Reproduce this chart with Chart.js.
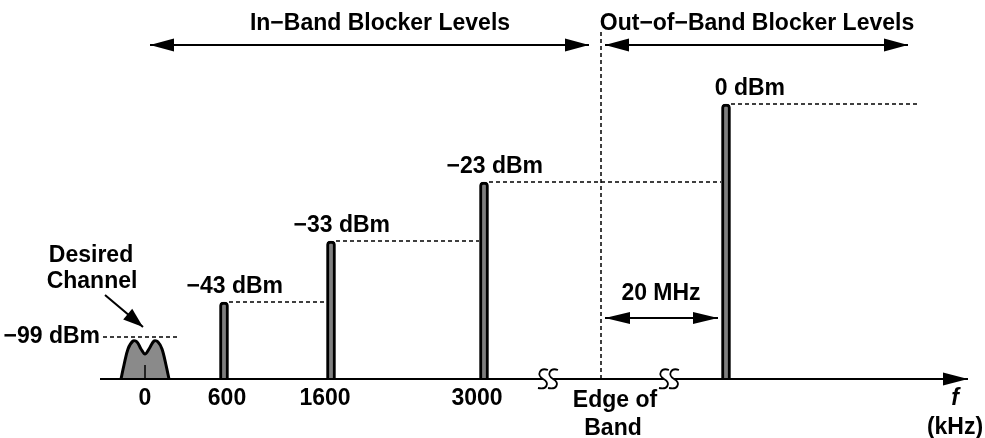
<!DOCTYPE html>
<html>
<head>
<meta charset="utf-8">
<script src="https://cdn.jsdelivr.net/npm/chart.js@4.4.1/dist/chart.umd.min.js"></script>
<style>
  html, body { margin: 0; padding: 0; background: #fff; }
</style>
</head>
<body>
<canvas id="spec" width="985" height="438"></canvas>
<script>
// schematic spectrum: x = place on the drawn frequency axis, y = drawn level above the axis
const tickLabels = ["0", "600", "1600", "3000"];
const tickPos = [145, 227, 325, 477];
const blockerPos = [224, 331, 484, 726];
const blockerHeight = [77, 138, 197, 275];
const blockerLabels = ["\u221243 dBm", "\u221233 dBm", "\u221223 dBm", "0 dBm"];
const desiredPos = 145;
const desiredHeight = 42;
const desiredLabel = "\u221299 dBm";
// desired channel outline (offset from centre, height)
const channelDx = [-24, -21, -17, -12, -8, -4, 0, 4, 9, 13, 17, 21, 24];
const channelH  = [0, 14, 30, 38, 37, 30, 25, 30, 38, 37, 30, 14, 0];
const edgePos = 601;
const breakPos = [548, 669];

const FONT = '700 23px "Liberation Sans", Arial, sans-serif';

function seg(x1, y1, x2, y2, dash) {
  return {
    type: "line",
    data: [{ x: x1, y: y1 }, { x: x2, y: y2 }],
    borderColor: "#000",
    borderWidth: 1.5,
    borderDash: dash || [],
    pointRadius: 0,
    fill: false,
    order: 2
  };
}

const datasets = [];

// desired channel
datasets.push({
  type: "line",
  data: channelDx.map((d, i) => ({ x: desiredPos + d, y: channelH[i] })),
  borderColor: "#000",
  borderWidth: 3,
  backgroundColor: "#8a8a8a",
  fill: "origin",
  tension: 0.35,
  pointRadius: 0,
  order: 3
});
datasets.push(seg(desiredPos, 0, desiredPos, 14));

// blockers
datasets.push({
  type: "bar",
  data: blockerPos.map((x, i) => ({ x: x, y: blockerHeight[i] })),
  backgroundColor: "#7f7f7f",
  borderColor: "#000",
  borderWidth: 3,
  borderSkipped: "start",
  borderRadius: { topLeft: 4, topRight: 4 },
  barThickness: 9,
  order: 1
});

// dashed level lines
datasets.push(seg(103, desiredHeight, 179, desiredHeight, [4, 3]));
blockerPos.forEach((x, i) => {
  const end = i < blockerPos.length - 1 ? blockerPos[i + 1] - 5 : 918;
  datasets.push(seg(x + 5, blockerHeight[i], end, blockerHeight[i], [4, 3]));
});
// band edge
datasets.push(seg(edgePos, 0, edgePos, 349, [4, 3]));

function arrowHead(ctx, tx, ty, dx, dy, len, half) {
  const l = Math.hypot(dx, dy);
  const ux = dx / l, uy = dy / l;
  ctx.beginPath();
  ctx.moveTo(tx, ty);
  ctx.lineTo(tx - ux * len - uy * half, ty - uy * len + ux * half);
  ctx.lineTo(tx - ux * len + uy * half, ty - uy * len - ux * half);
  ctx.closePath();
  ctx.fill();
}

function arrow(ctx, x1, y1, x2, y2, both, len, half) {
  ctx.beginPath();
  ctx.moveTo(x1, y1);
  ctx.lineTo(x2, y2);
  ctx.stroke();
  arrowHead(ctx, x2, y2, x2 - x1, y2 - y1, len, half);
  if (both) arrowHead(ctx, x1, y1, x1 - x2, y1 - y2, len, half);
}

function squiggle(ctx, cx, cy) {
  ctx.beginPath();
  ctx.moveTo(cx + 5, cy - 9);
  ctx.bezierCurveTo(cx - 3, cy - 12, cx - 7, cy - 4, cx, cy);
  ctx.bezierCurveTo(cx + 7, cy + 4, cx + 4, cy + 11, cx - 5, cy + 9);
  ctx.stroke();
}

const annotations = {
  id: "annotations",
  afterDatasetsDraw(chart) {
    const { ctx, scales: { x, y } } = chart;
    const X = v => x.getPixelForValue(v);
    const Y = v => y.getPixelForValue(v);
    ctx.save();
    ctx.fillStyle = "#000";
    ctx.strokeStyle = "#000";

    // frequency axis
    ctx.lineWidth = 2;
    arrow(ctx, X(100), Y(0), X(968), Y(0), false, 25, 6.5);

    // axis breaks
    breakPos.forEach(b => {
      ctx.fillStyle = "#fff";
      ctx.fillRect(X(b - 5), Y(0) - 2, 10, 4);
      ctx.fillStyle = "#000";
      ctx.lineWidth = 1.8;
      squiggle(ctx, X(b - 5), Y(0));
      squiggle(ctx, X(b + 5), Y(0));
    });

    // top range arrows
    ctx.lineWidth = 2;
    arrow(ctx, X(150), Y(334), X(589), Y(334), true, 24, 6.5);
    arrow(ctx, X(605), Y(334), X(908), Y(334), true, 24, 6.5);
    // 20 MHz spacing
    arrow(ctx, X(edgePos + 4), Y(61), X(blockerPos[3] - 8), Y(61), true, 25, 6);
    // desired channel pointer
    arrow(ctx, X(105), Y(84), X(143), Y(52), false, 20, 7);

    ctx.font = FONT;
    ctx.textBaseline = "alphabetic";

    ctx.textAlign = "center";
    ctx.fillText("In\u2212Band Blocker Levels", X(380), Y(349));
    ctx.fillText("Out\u2212of\u2212Band Blocker Levels", X(757), Y(349));
    ctx.fillText("20 MHz", X(661), Y(79));
    ctx.fillText("Desired", X(91), Y(117));
    ctx.fillText("Channel", X(92), Y(91));
    tickLabels.forEach((t, i) => ctx.fillText(t, X(tickPos[i]), Y(-26)));
    ctx.fillText("Edge of", X(615), Y(-28));
    ctx.fillText("Band", X(613), Y(-56));
    ctx.fillText("(kHz)", X(955), Y(-55));
    ctx.font = "italic " + FONT;
    ctx.fillText("f", X(955), Y(-26));
    ctx.font = FONT;

    ctx.textAlign = "right";
    ctx.fillText(desiredLabel, X(100), Y(36));
    blockerLabels.forEach((t, i) => {
      ctx.fillText(t, X(blockerPos[i] + 59), Y(blockerHeight[i] + 9));
    });
    ctx.restore();
  }
};

new Chart(document.getElementById("spec"), {
  type: "line",
  data: { datasets: datasets },
  options: {
    responsive: false,
    animation: false,
    layout: { padding: 0 },
    scales: {
      x: { type: "linear", min: 0, max: 985, offset: false, display: false },
      y: { type: "linear", min: -59, max: 379, display: false }
    },
    plugins: {
      legend: { display: false },
      tooltip: { enabled: false }
    }
  },
  plugins: [annotations]
});
</script>
</body>
</html>
